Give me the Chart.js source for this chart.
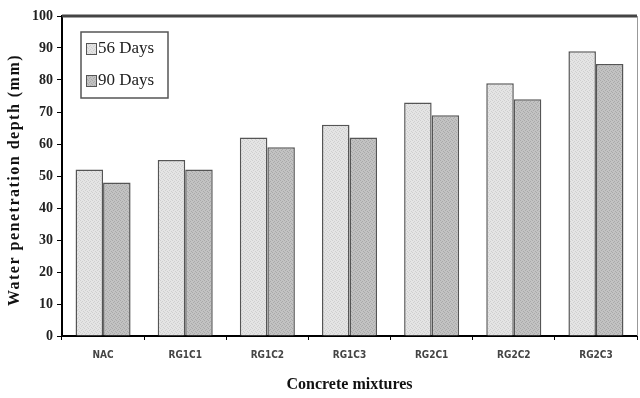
<!DOCTYPE html>
<html>
<head>
<meta charset="utf-8">
<script src="https://cdn.jsdelivr.net/npm/chart.js@4.4.1/dist/chart.umd.min.js"></script>
<style>
  html, body { margin: 0; padding: 0; background: #fff; }
  #wrap { width: 640px; height: 398px; }
</style>
</head>
<body>
<div id="wrap"><canvas id="chartDepth"></canvas></div>
<script>
const mixtures = ['NAC', 'RG1C1', 'RG1C2', 'RG1C3', 'RG2C1', 'RG2C2', 'RG2C3'];
const days56 = [52, 55, 62, 66, 73, 79, 89];
const days90 = [48, 52, 59, 62, 69, 74, 85];
const seriesNames = ['56 Days', '90 Days'];
const yTitle = 'Water penetration depth (mm)';

// small stippled fill so the bars get the grainy look
function stipple(base, dot) {
  const c = document.createElement('canvas');
  c.width = 4; c.height = 4;
  const g = c.getContext('2d');
  g.fillStyle = base;
  g.fillRect(0, 0, 4, 4);
  g.fillStyle = dot;
  g.fillRect(0, 0, 1, 1);
  g.fillRect(2, 1, 1, 1);
  g.fillRect(1, 2, 1, 1);
  g.fillRect(3, 3, 1, 1);
  return g.createPattern(c, 'repeat');
}

const fill56 = stipple('#e4e4e4', '#cfcfcf');
const fill90 = stipple('#c2c2c2', '#a9a9a9');

// frame on top/right, spaced-out y title and the boxed legend inside the plot
const frameAndLegend = {
  id: 'frameAndLegend',
  afterDraw(chart) {
    const ctx = chart.ctx;
    const a = chart.chartArea;
    ctx.save();
    ctx.strokeStyle = '#444';
    ctx.lineWidth = 3;
    ctx.beginPath();
    ctx.moveTo(a.left, a.top);
    ctx.lineTo(a.right, a.top);
    ctx.stroke();
    ctx.strokeStyle = '#999';
    ctx.lineWidth = 1;
    ctx.beginPath();
    ctx.moveTo(a.right + 0.5, a.top);
    ctx.lineTo(a.right + 0.5, a.bottom);
    ctx.stroke();

    ctx.save();
    ctx.translate(15, (a.top + a.bottom) / 2 + 4);
    ctx.rotate(-Math.PI / 2);
    ctx.letterSpacing = '1.5px';
    ctx.font = 'bold 16px "Liberation Serif", serif';
    ctx.fillStyle = '#111';
    ctx.textAlign = 'center';
    ctx.textBaseline = 'middle';
    ctx.fillText(yTitle, 0, 0);
    ctx.restore();

    const bx = a.left + 19, by = a.top + 16, bw = 87, bh = 66;
    ctx.strokeStyle = '#555';
    ctx.lineWidth = 1.5;
    ctx.strokeRect(bx, by, bw, bh);
    const fills = [fill56, fill90];
    ctx.font = '17px "Liberation Serif", serif';
    ctx.textBaseline = 'middle';
    seriesNames.forEach((name, i) => {
      const cy = by + 17 + i * 32;
      ctx.fillStyle = fills[i];
      ctx.fillRect(bx + 5, cy - 6, 10, 11);
      ctx.strokeStyle = '#555';
      ctx.lineWidth = 1;
      ctx.strokeRect(bx + 5.5, cy - 5.5, 10, 11);
      ctx.fillStyle = '#222';
      ctx.fillText(name, bx + 17, cy);
    });
    ctx.restore();
  }
};

new Chart(document.getElementById('chartDepth'), {
  type: 'bar',
  data: {
    labels: mixtures,
    datasets: [
      { label: seriesNames[0], data: days56, backgroundColor: fill56, borderColor: '#555', borderWidth: 1.5 },
      { label: seriesNames[1], data: days90, backgroundColor: fill90, borderColor: '#555', borderWidth: 1.5 }
    ]
  },
  options: {
    responsive: true,
    maintainAspectRatio: false,
    animation: false,
    layout: { padding: { top: 16, right: 3, left: 0, bottom: 0 } },
    datasets: { bar: { categoryPercentage: 0.67, barPercentage: 1.0 } },
    plugins: { legend: { display: false }, tooltip: { enabled: false } },
    scales: {
      x: {
        grid: { drawOnChartArea: false, drawTicks: true, tickLength: 4, color: '#000', offset: true },
        border: { display: true, color: '#000', width: 2 },
        ticks: {
          color: '#444',
          font: { family: '"Liberation Sans Narrow", "DejaVu Sans Condensed", sans-serif', size: 10, weight: 'bold' },
          padding: 9
        },
        title: {
          display: true,
          text: 'Concrete mixtures',
          color: '#111',
          font: { family: '"Liberation Serif", serif', size: 16, weight: 'bold' },
          padding: { top: 11 }
        },
        afterFit(s) { s.height = 62; }
      },
      y: {
        min: 0,
        max: 100,
        grid: { drawOnChartArea: false, drawTicks: true, tickLength: 5, color: '#000' },
        border: { display: true, color: '#000', width: 2 },
        ticks: {
          stepSize: 10,
          color: '#222',
          font: { family: '"Liberation Serif", serif', size: 14, weight: 'bold' },
          padding: 4
        },
        afterFit(s) { s.width = 62; }
      }
    }
  },
  plugins: [frameAndLegend]
});
</script>
</body>
</html>
